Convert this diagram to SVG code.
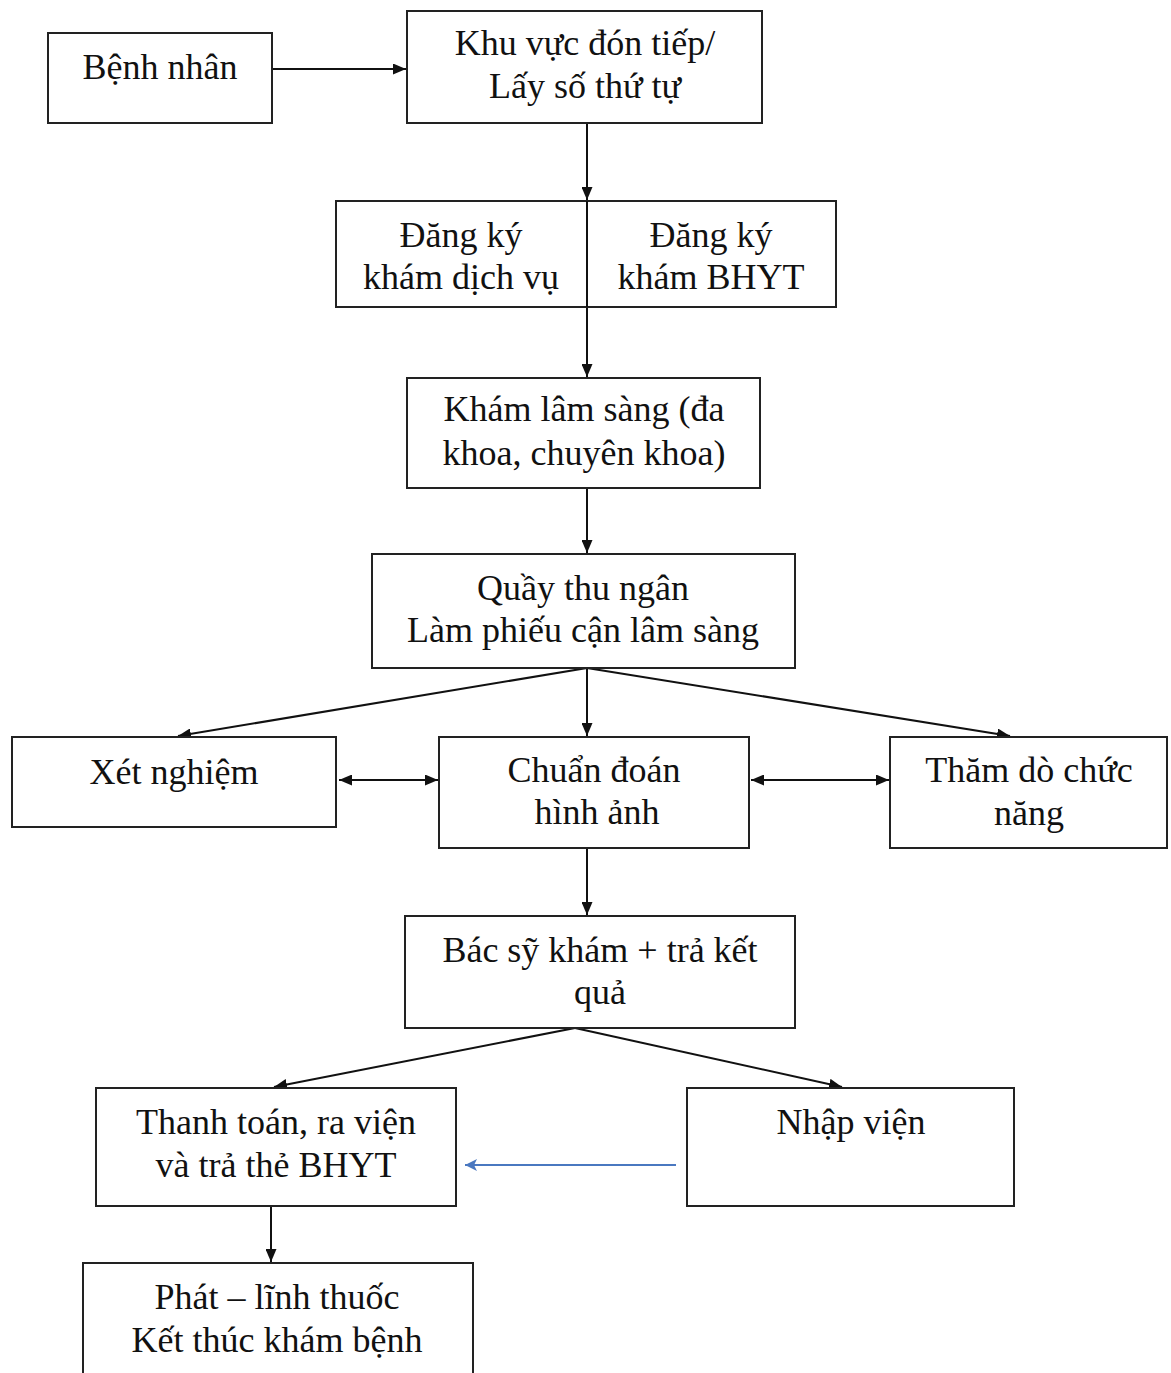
<svg xmlns="http://www.w3.org/2000/svg" width="1171" height="1373" viewBox="0 0 1171 1373">
<defs>
<style>
.box{fill:#fff;stroke:#222;stroke-width:2}
.t{font-family:"Liberation Serif","Times New Roman",serif;font-size:36px;fill:#111;text-anchor:middle}
.c{stroke:#111;stroke-width:2;fill:none}
.b{stroke:#4a78c0;stroke-width:2;fill:none}
</style>
<marker id="ah" markerUnits="userSpaceOnUse" markerWidth="13" markerHeight="11" refX="13" refY="5.5" orient="auto-start-reverse"><path d="M0,0 L13,5.5 L0,11 z" fill="#111"/></marker>
<marker id="ahb" markerUnits="userSpaceOnUse" markerWidth="14" markerHeight="12" refX="12" refY="6" orient="auto"><path d="M0,0 L12,6 L0,12 L3,6 z" fill="#4a78c0"/></marker>
</defs>
<rect width="1171" height="1373" fill="#fff"/>
<g id="connectors">
<line class="c" x1="272" y1="69" x2="406" y2="69" marker-end="url(#ah)"/>
<line class="c" x1="587" y1="123" x2="587" y2="200" marker-end="url(#ah)"/>
<line class="c" x1="587" y1="200" x2="587" y2="377" marker-end="url(#ah)"/>
<line class="c" x1="587" y1="488" x2="587" y2="553" marker-end="url(#ah)"/>
<line class="c" x1="587" y1="668" x2="178" y2="736" marker-end="url(#ah)"/>
<line class="c" x1="587" y1="668" x2="587" y2="736" marker-end="url(#ah)"/>
<line class="c" x1="587" y1="668" x2="1010" y2="736" marker-end="url(#ah)"/>
<line class="c" x1="339" y1="780" x2="438" y2="780" marker-start="url(#ah)" marker-end="url(#ah)"/>
<line class="c" x1="751" y1="780" x2="889" y2="780" marker-start="url(#ah)" marker-end="url(#ah)"/>
<line class="c" x1="587" y1="848" x2="587" y2="915" marker-end="url(#ah)"/>
<line class="c" x1="575" y1="1028" x2="274" y2="1087" marker-end="url(#ah)"/>
<line class="c" x1="575" y1="1028" x2="842" y2="1087" marker-end="url(#ah)"/>
<line class="b" x1="676" y1="1165" x2="465" y2="1165" marker-end="url(#ahb)"/>
<line class="c" x1="271" y1="1206" x2="271" y2="1262" marker-end="url(#ah)"/>
</g>
<g id="benh-nhan"><rect class="box" x="48" y="33" width="224" height="90"/><text class="t" x="160" y="79">Bệnh nhân</text></g>
<g id="khu-vuc"><rect class="box" x="407" y="11" width="355" height="112"/><text class="t" x="585" y="55">Khu vực đón tiếp/</text><text class="t" x="585" y="98">Lấy số thứ tự</text></g>
<g id="dang-ky"><rect class="box" x="336" y="201" width="500" height="106"/><line class="c" x1="587" y1="201" x2="587" y2="307"/><text class="t" x="461" y="247">Đăng ký</text><text class="t" x="461" y="289">khám dịch vụ</text><text class="t" x="711" y="247">Đăng ký</text><text class="t" x="711" y="289">khám BHYT</text></g>
<g id="kham-lam-sang"><rect class="box" x="407" y="378" width="353" height="110"/><text class="t" x="584" y="421">Khám lâm sàng (đa</text><text class="t" x="584" y="465">khoa, chuyên khoa)</text></g>
<g id="quay-thu-ngan"><rect class="box" x="372" y="554" width="423" height="114"/><text class="t" x="583" y="600">Quầy thu ngân</text><text class="t" x="583" y="642">Làm phiếu cận lâm sàng</text></g>
<g id="xet-nghiem"><rect class="box" x="12" y="737" width="324" height="90"/><text class="t" x="174" y="784">Xét nghiệm</text></g>
<g id="chuan-doan"><rect class="box" x="439" y="737" width="310" height="111"/><text class="t" x="594" y="782">Chuẩn đoán</text><text class="t" x="597" y="824">hình ảnh</text></g>
<g id="tham-do"><rect class="box" x="890" y="737" width="277" height="111"/><text class="t" x="1029" y="782">Thăm dò chức</text><text class="t" x="1029" y="825">năng</text></g>
<g id="bac-sy"><rect class="box" x="405" y="916" width="390" height="112"/><text class="t" x="600" y="962">Bác sỹ khám + trả kết</text><text class="t" x="600" y="1004">quả</text></g>
<g id="thanh-toan"><rect class="box" x="96" y="1088" width="360" height="118"/><text class="t" x="276" y="1134">Thanh toán, ra viện</text><text class="t" x="276" y="1177">và trả thẻ BHYT</text></g>
<g id="nhap-vien"><rect class="box" x="687" y="1088" width="327" height="118"/><text class="t" x="851" y="1134">Nhập viện</text></g>
<g id="phat-thuoc"><rect class="box" x="83" y="1263" width="390" height="130"/><text class="t" x="277" y="1309">Phát – lĩnh thuốc</text><text class="t" x="277" y="1352">Kết thúc khám bệnh</text></g>
</svg>
